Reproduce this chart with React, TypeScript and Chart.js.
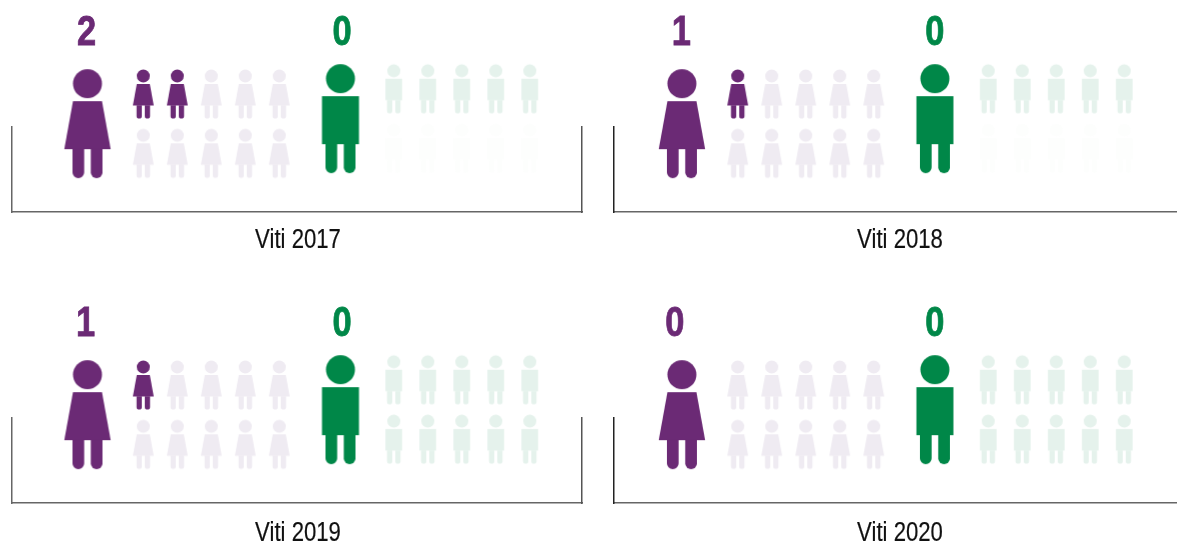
import React, { useEffect, useRef } from "react";
import { Chart, registerables } from "chart.js";

Chart.register(...registerables);

// ---- data ----
const periods = ["Viti 2017", "Viti 2018", "Viti 2019", "Viti 2020"];
const womenCounts = [2, 1, 1, 0];
const menCounts = [0, 0, 0, 0];
const slotsPerRow = 5;
const rows = 2;

// ---- styling and layout per panel ----
const PURPLE = "#6b2a75";
const GREEN = "#008748";
const PALE_PURPLE = "#efebf2";
const PALE_GREEN = "#e5f2ec";
const FAINT_GREEN = "#fdfefd";
const FONT = "'Liberation Sans', Arial, sans-serif";
const NARROW = 0.82;
const panelLeft = [0, 602, 0, 602];
const panelTop = [0, 0, 291, 291];
const xMin = [-75.5, -67.9, -75.5, -67.9];
const womanLabelDx = [-1, -0.5, -2, -7];
const manLabelDx = [1.5, 0, 1.5, 0];
const periodY = [-36, -36, -38, -38];
const leftBorder = ["#666666", "#222222", "#666666", "#222222"];
const fadedSecondMenRow = [true, true, false, false];

const X_SPAN = 570;
const MAN_X = 253;
const SMALL_WOMAN_X = 55.8;
const SMALL_MAN_X = 306.3;
const SLOT = 34;
const BIG_WOMAN_Y = 88.35;
const BIG_MAN_Y = 93.35;
const SMALL_WOMAN_Y = [118, 58.7];
const SMALL_MAN_Y = [123.2, 63.9];
const LABEL_Y = 167;
const SMALL = 0.45;

type Kind = "woman" | "man";

function sprite(kind: Kind, color: string, s: number): HTMLCanvasElement {
  const c = document.createElement("canvas");
  const W = Math.ceil(50 * s) + 2;
  const H = Math.ceil(109 * s) + 2;
  c.width = W;
  c.height = H;
  const g = c.getContext("2d")!;
  g.translate(W / 2, (H - 109 * s) / 2);
  g.scale(s, s);
  g.fillStyle = color;
  g.beginPath();
  g.arc(0, 14.5, 14.5, 0, Math.PI * 2);
  g.fill();
  if (kind === "woman") {
    g.beginPath();
    g.moveTo(-14.5, 32);
    g.lineTo(14.5, 32);
    g.lineTo(23.2, 80);
    g.lineTo(-23.2, 80);
    g.closePath();
    g.fill();
  } else {
    g.fillRect(-18.5, 32, 37, 48);
  }
  for (const [a, b] of [[-15, -3.3], [3.3, 15]]) {
    const r = (b - a) / 2;
    g.beginPath();
    g.moveTo(a, 79.5);
    g.lineTo(b, 79.5);
    g.lineTo(b, 109 - r);
    g.arc(a + r, 109 - r, r, 0, Math.PI);
    g.closePath();
    g.fill();
  }
  return c;
}

function smallPoints(startX: number, ys: number[], from: number, to: number) {
  const pts: { x: number; y: number }[] = [];
  for (let i = from; i < to; i++) {
    const col = i % slotsPerRow;
    const row = Math.floor(i / slotsPerRow);
    pts.push({ x: startX + col * SLOT, y: ys[row] });
  }
  return pts;
}

function figure(data: { x: number; y: number }[], style: HTMLCanvasElement) {
  return {
    data,
    pointStyle: style,
    pointRadius: 200,
    pointHoverRadius: 200,
    showLine: false,
    clip: false as const,
    backgroundColor: "transparent",
    borderColor: "transparent",
  };
}

function narrowText(ctx: any, text: string, x: number, y: number, font: string, color: string, heavy: number) {
  ctx.save();
  ctx.translate(x, y);
  ctx.scale(NARROW, 1);
  ctx.font = font;
  ctx.textAlign = "center";
  ctx.textBaseline = "alphabetic";
  ctx.fillStyle = color;
  ctx.fillText(text, 0, 0);
  if (heavy > 0) {
    ctx.strokeStyle = color;
    ctx.lineWidth = heavy;
    ctx.strokeText(text, 0, 0);
  }
  ctx.restore();
}

function Panel({ index }: { index: number }) {
  const ref = useRef<HTMLCanvasElement>(null);
  useEffect(() => {
    const women = womenCounts[index];
    const men = menCounts[index];
    const total = slotsPerRow * rows;
    const datasets = [
      figure([{ x: 0, y: BIG_WOMAN_Y }], sprite("woman", PURPLE, 1)),
      figure(smallPoints(SMALL_WOMAN_X, SMALL_WOMAN_Y, 0, women), sprite("woman", PURPLE, SMALL)),
      figure(smallPoints(SMALL_WOMAN_X, SMALL_WOMAN_Y, women, total), sprite("woman", PALE_PURPLE, SMALL)),
      figure([{ x: MAN_X, y: BIG_MAN_Y }], sprite("man", GREEN, 1)),
      figure(smallPoints(SMALL_MAN_X, SMALL_MAN_Y, 0, men), sprite("man", GREEN, SMALL)),
      figure(
        smallPoints(SMALL_MAN_X, SMALL_MAN_Y, men, fadedSecondMenRow[index] ? slotsPerRow : total),
        sprite("man", PALE_GREEN, SMALL)
      ),
      figure(
        fadedSecondMenRow[index] ? smallPoints(SMALL_MAN_X, SMALL_MAN_Y, slotsPerRow, total) : [],
        sprite("man", FAINT_GREEN, SMALL)
      ),
    ];
    const textLabels = {
      id: "textLabels",
      afterDatasetsDraw(chart: any) {
        const { ctx, scales } = chart;
        const xs = scales.x;
        const ys = scales.y;
        const big = `bold 42px ${FONT}`;
        narrowText(ctx, String(women), xs.getPixelForValue(womanLabelDx[index]), ys.getPixelForValue(LABEL_Y), big, PURPLE, 0.8);
        narrowText(ctx, String(men), xs.getPixelForValue(MAN_X + manLabelDx[index]), ys.getPixelForValue(LABEL_Y), big, GREEN, 0.8);
        narrowText(ctx, periods[index], (xs.left + xs.right) / 2 + 1, ys.getPixelForValue(periodY[index]), `27px ${FONT}`, "#111111", 0.2);
      },
    };
    const noGrid = { display: false, drawTicks: false, tickLength: 0 };
    const noTicks = { display: false, padding: 0 };
    const chart = new Chart(ref.current!, {
      type: "scatter",
      data: { datasets: datasets as any },
      plugins: [textLabels],
      options: {
        responsive: false,
        animation: false,
        devicePixelRatio: 1,
        events: [],
        layout: { autoPadding: false, padding: { left: 12, right: 18, top: 127, bottom: 60 } },
        plugins: { legend: { display: false }, tooltip: { enabled: false } },
        scales: {
          x: {
            type: "linear",
            min: xMin[index],
            max: xMin[index] + X_SPAN,
            grid: noGrid,
            ticks: noTicks,
            border: { display: true, color: "#666666", width: 1.5 },
          },
          y: {
            type: "linear",
            min: 0,
            max: 85,
            grid: noGrid,
            ticks: noTicks,
            border: { display: true, color: leftBorder[index], width: 1.5 },
          },
          right: {
            type: "linear",
            position: "right",
            min: 0,
            max: 85,
            grid: noGrid,
            ticks: noTicks,
            border: { display: true, color: "#555555", width: 1.5 },
          },
        },
      },
    } as any);
    return () => chart.destroy();
  }, [index]);
  return (
    <canvas
      ref={ref}
      width={600}
      height={272}
      style={{ position: "absolute", left: panelLeft[index], top: panelTop[index], width: 600, height: 272 }}
    />
  );
}

export default function App() {
  return (
    <div style={{ position: "absolute", left: 0, top: 0, width: 1177, height: 544, overflow: "hidden", background: "#fff" }}>
      {periods.map((_, i) => (
        <Panel key={i} index={i} />
      ))}
    </div>
  );
}
